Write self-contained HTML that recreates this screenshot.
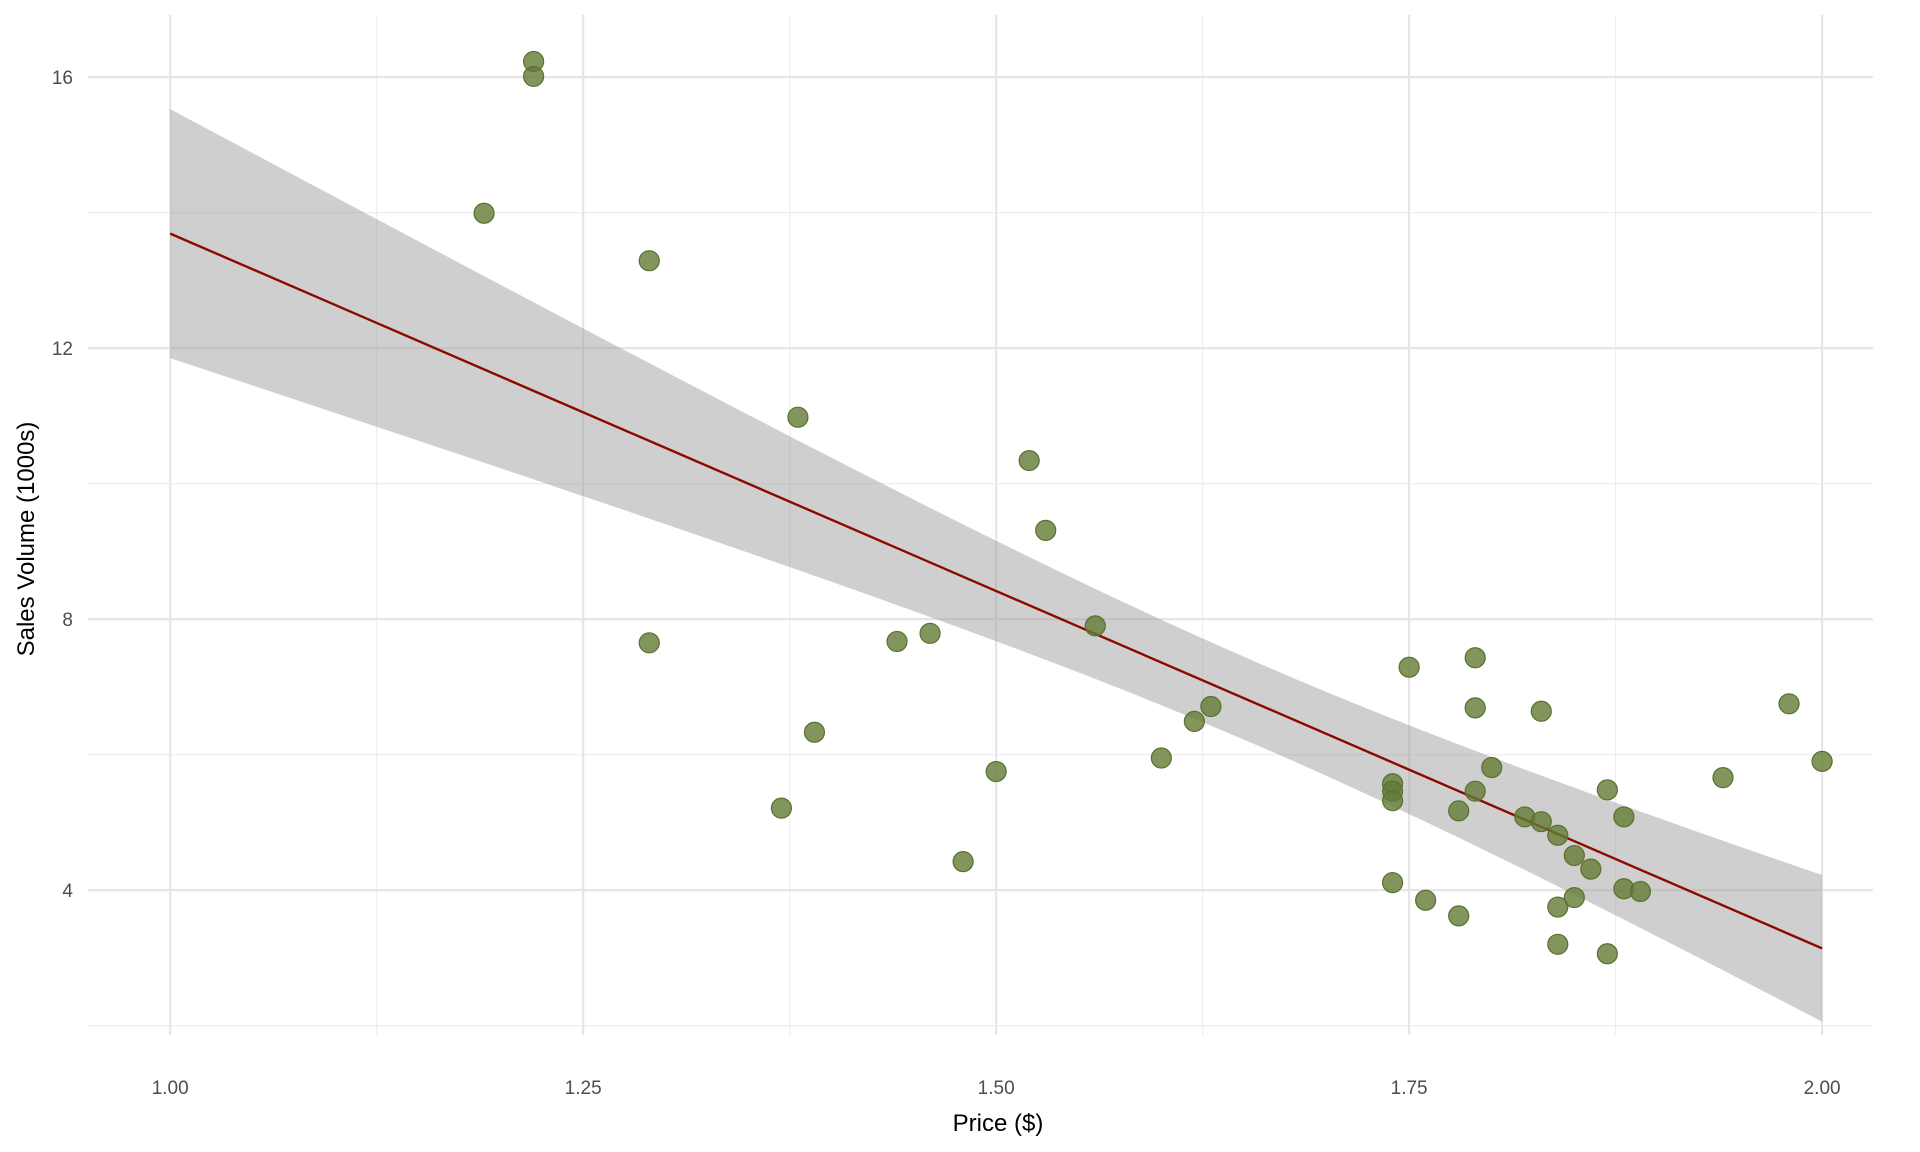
<!DOCTYPE html>
<html><head><meta charset="utf-8"><style>
html,body{margin:0;padding:0;background:#fff;}
svg{display:block;font-family:"Liberation Sans",Arial,sans-serif;}
</style></head><body>
<svg id="chart" width="1920" height="1152" viewBox="0 0 1920 1152" xmlns="http://www.w3.org/2000/svg">
<g id="grid"></g>
<g id="band"></g>
<g id="fit"></g>
<g id="points"></g>
<g id="axes"></g>
<text x="998" y="1131" font-size="24" text-anchor="middle" fill="#000">Price ($)</text>
<text transform="translate(34,539) rotate(-90)" font-size="24" text-anchor="middle" fill="#000">Sales Volume (1000s)</text>
</svg>
<script>
const prices = [1.22,1.22,1.19,1.29,1.29,1.38,1.37,1.39,1.44,1.46,1.48,1.50,1.52,1.53,1.56,1.60,1.62,1.63,1.74,1.74,1.74,1.74,1.75,1.76,1.78,1.78,1.79,1.79,1.79,1.80,1.82,1.83,1.83,1.84,1.84,1.84,1.85,1.85,1.86,1.87,1.87,1.88,1.88,1.89,1.94,1.98,2.00];
const volumes = [16.23,16.01,13.99,13.29,7.65,10.98,5.21,6.33,7.67,7.79,4.42,5.75,10.34,9.31,7.90,5.95,6.49,6.71,5.57,5.46,5.32,4.11,7.29,3.85,5.17,3.62,7.43,6.69,5.46,5.81,5.08,5.01,6.64,4.81,3.75,3.20,4.51,3.89,4.31,5.48,3.06,5.08,4.02,3.98,5.66,6.75,5.90];
const xTicks = [1.00,1.25,1.50,1.75,2.00];
const xTickLabels = ["1.00","1.25","1.50","1.75","2.00"];
const xMinor = [1.125,1.375,1.625,1.875];
const yTicks = [4,8,12,16];
const yTickLabels = ["4","8","12","16"];
const yMinor = [2,6,10,14];
const fitIntercept = [24.24];
const fitSlope = [-10.55];
const bandParams = [0.373, 6.9, 1.66]; // hw^2 = A + B (x - m)^2

const NS = "http://www.w3.org/2000/svg";
const X = v => 170.2 + (v - 1) * 1651.9;
const Y = v => 77.1 + (16 - v) * 67.75;
const PL = 88, PR = 1873, PT = 15, PB = 1035;
function mk(tag, attrs, parent){const e=document.createElementNS(NS,tag);for(const k in attrs)e.setAttribute(k,attrs[k]);parent.appendChild(e);return e;}
const grid=document.getElementById('grid'), axes=document.getElementById('axes');
yMinor.forEach(v=>{const l=mk('line',{x1:PL,x2:PR,y1:Y(v),y2:Y(v),stroke:'#eeeeee','stroke-width':1.2},grid);

});
xMinor.forEach(v=>{const l=mk('line',{x1:X(v),x2:X(v),y1:PT,y2:PB,stroke:'#eeeeee','stroke-width':1.2},grid);

});
yTicks.forEach((v,i)=>{const l=mk('line',{x1:PL,x2:PR,y1:Y(v),y2:Y(v),stroke:'#e6e6e6','stroke-width':2.2},grid);


const t=mk('text',{x:73,y:Y(v)+7,'font-size':19,'text-anchor':'end',fill:'#4d4d4d'},axes);t.textContent=yTickLabels[i];

});
xTicks.forEach((v,i)=>{const l=mk('line',{x1:X(v),x2:X(v),y1:PT,y2:PB,stroke:'#e6e6e6','stroke-width':2.2},grid);


const t=mk('text',{x:X(v),y:1094,'font-size':19,'text-anchor':'middle',fill:'#4d4d4d'},axes);t.textContent=xTickLabels[i];

});
const fitv = x => fitIntercept[0] + fitSlope[0]*x;
const hw = x => Math.sqrt(bandParams[0] + bandParams[1]*(x-bandParams[2])**2);
let up=[],lo=[];
for(let i=0;i<=50;i++){const x=1+i/50;up.push(X(x)+','+Y(fitv(x)+hw(x)));lo.unshift(X(x)+','+Y(fitv(x)-hw(x)));}
const band=mk('polygon',{points:up.concat(lo).join(' '),fill:'#999999','fill-opacity':0.47},document.getElementById('band'));


const ln=mk('line',{x1:X(1),y1:Y(fitv(1)),x2:X(2),y2:Y(fitv(2)),stroke:'#8b0a00','stroke-width':2.4},document.getElementById('fit'));


const pts=document.getElementById('points');
prices.forEach((p,i)=>{const c=mk('circle',{cx:X(p),cy:Y(volumes[i]),r:10,fill:'#627b35','fill-opacity':0.8,stroke:'#5a6f30','stroke-width':1.2},pts);

});
</script>
</body></html>
